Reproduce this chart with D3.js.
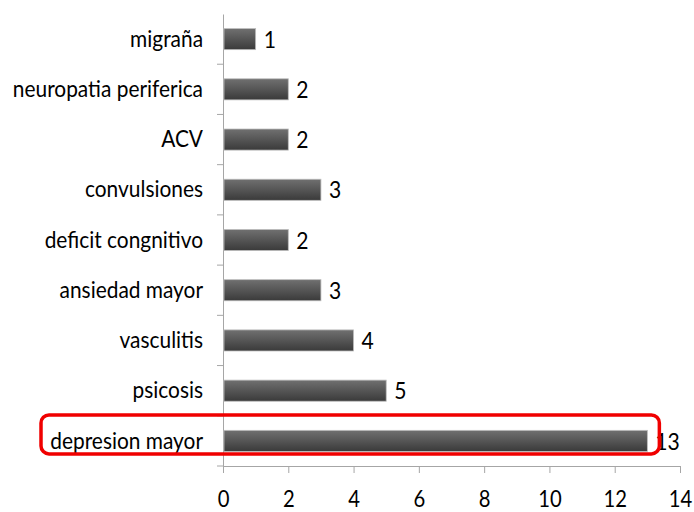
<!DOCTYPE html>
<html>
<head>
<meta charset="utf-8">
<script src="https://cdn.jsdelivr.net/npm/d3@7"></script>
<style>
  body { margin: 0; background: #fff; }
  text { font-family: Lato, "Open Sans", sans-serif; }
</style>
</head>
<body>
<div class="chart"></div>
<script>
// Categories (top to bottom) and counts
const categories = ["migraña", "neuropatia periferica", "ACV", "convulsiones", "deficit congnitivo", "ansiedad mayor", "vasculitis", "psicosis", "depresion mayor"];
const counts = [1, 2, 2, 3, 2, 3, 4, 5, 13];
const xTicks = [0, 2, 4, 6, 8, 10, 12, 14];
const highlighted = "depresion mayor";

const margin = { top: 14, right: 14, bottom: 46, left: 223 },
  width = 694 - margin.left - margin.right,
  height = 512 - margin.top - margin.bottom;

const svg = d3
  .select(".chart")
  .append("svg")
  .attr("width", 694)
  .attr("height", 512)
  .append("g")
  .attr("transform", `translate(${margin.left},${margin.top})`);

// squeeze text horizontally, the original font is narrow
function condense(sel, k) {
  sel.each(function () {
    const w = this.getComputedTextLength();
    d3.select(this).attr("textLength", w * k).attr("lengthAdjust", "spacingAndGlyphs");
  });
}

// bar gradient
const grad = svg.append("defs").append("linearGradient")
  .attr("id", "barGrad").attr("x1", 0).attr("y1", 0).attr("x2", 0).attr("y2", 1);
grad.append("stop").attr("offset", "0%").attr("stop-color", "#707070");
grad.append("stop").attr("offset", "45%").attr("stop-color", "#585858");
grad.append("stop").attr("offset", "100%").attr("stop-color", "#3a3a3a");

const x = d3.scaleLinear().domain([0, 14]).range([0, width]);
const y = d3.scaleBand().domain(categories).range([0, height]).paddingInner(0.58).paddingOuter(0.29);

const data = categories.map((c, i) => ({ name: c, value: counts[i] }));

// X axis
const xAxis = svg.append("g")
  .attr("transform", `translate(0,${height})`)
  .call(d3.axisBottom(x).tickValues(xTicks).tickSize(7).tickPadding(18).tickSizeOuter(7));
xAxis.selectAll("line, path").attr("stroke", "#a6a6a6");
xAxis.selectAll("text").style("font-size", "23px").attr("fill", "#000").call(condense, 0.88);

// Y axis, ticks sit between the categories
const yAxis = svg.append("g").call(d3.axisLeft(y).tickSize(0).tickPadding(20));
yAxis.select("path").attr("stroke", "#a6a6a6");
yAxis.selectAll("text").style("font-size", "24px").attr("fill", "#000").call(condense, 0.87);
svg.append("g").selectAll("line")
  .data(d3.range(1, categories.length + 1))
  .join("line")
  .attr("x1", -6).attr("x2", 0)
  .attr("y1", i => i * (height / categories.length))
  .attr("y2", i => i * (height / categories.length))
  .attr("stroke", "#a6a6a6");

// Bars
svg.selectAll(".bar")
  .data(data)
  .join("rect")
  .attr("class", "bar")
  .attr("x", x(0) + 1)
  .attr("y", d => y(d.name))
  .attr("width", d => x(d.value) - x(0) - 1)
  .attr("height", y.bandwidth())
  .attr("fill", "url(#barGrad)")
  .attr("stroke", "#bdbdbd")
  .attr("stroke-width", 0.8);

// Value labels
svg.selectAll(".val")
  .data(data)
  .join("text")
  .attr("class", "val")
  .attr("x", d => x(d.value) + 8)
  .attr("y", d => y(d.name) + y.bandwidth() / 2)
  .attr("dy", "0.36em")
  .style("font-size", "24px")
  .attr("fill", "#000")
  .text(d => d.value)
  .call(condense, 0.88);

// Red highlight box around the top category
svg.append("rect")
  .attr("x", 41 - margin.left)
  .attr("y", y(highlighted) + y.bandwidth() / 2 - 26)
  .attr("width", x(13) + 12 - (41 - margin.left))
  .attr("height", 39)
  .attr("rx", 8)
  .attr("fill", "none")
  .attr("stroke", "#f00000")
  .attr("stroke-width", 3.5);
</script>
</body>
</html>
